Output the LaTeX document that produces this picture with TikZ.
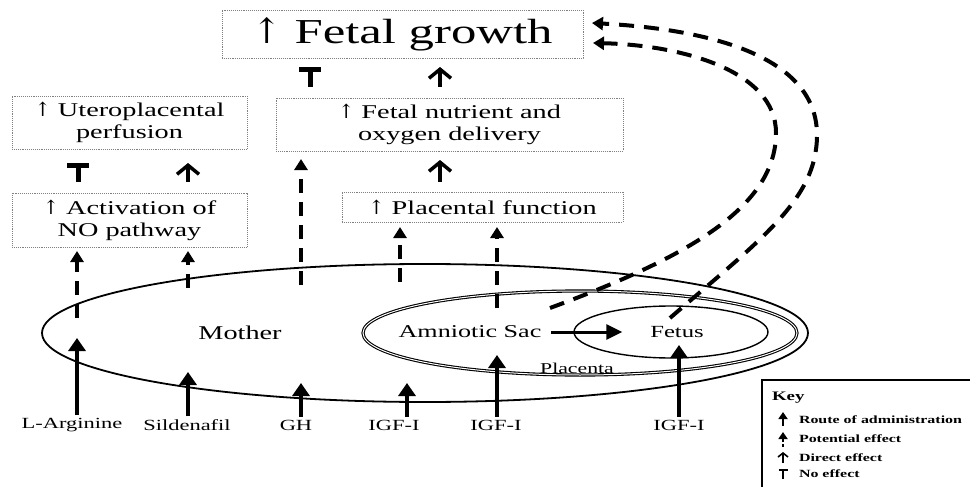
\documentclass[tikz,border=0pt]{standalone}
\usepackage{fontspec}
\setmainfont{Liberation Serif}[FakeStretch=1.45]
\newfontfamily\arrowfont{DejaVu Serif}
\newcommand{\up}{{\arrowfont ↑}}
\usetikzlibrary{shapes.geometric,arrows.meta,positioning,calc}

\begin{document}
\begin{tikzpicture}[x=1pt,y=-1pt,
  every node/.style={inner sep=0pt,outer sep=0pt},
  box/.style={draw=gray,densely dotted,line width=0.9pt,align=center,font=\fontsize{19.5}{22}\selectfont},
  region/.style={draw,ellipse,line width=1.8pt},
  sac/.style={draw,ellipse,line width=1.1pt,double=white,double distance=1pt},
  place/.style={font=\fontsize{18}{21}\selectfont},
  drug/.style={font=\fontsize{15.5}{18}\selectfont,inner sep=3pt},
  route/.style={line width=4.5pt,-{Triangle[width=17pt,length=13pt]}},
  potential/.style={line width=4.5pt,dash pattern=on 14pt off 9pt,-{Triangle[width=13pt,length=11pt]}},
  curvy/.style={line width=4pt,dash pattern=on 15pt off 10pt,-{Triangle[width=13pt,length=11pt]}},
  direct/.style={line width=3.5pt,-{Straight Barb[width=22pt,length=9pt]}},
  noeffect/.style={line width=5pt,-{Bar[width=22pt]}},
  keytext/.style={anchor=west,font=\bfseries\fontsize{11}{13}\selectfont},
]
\useasboundingbox (0,0) rectangle (970,487);
\clip (0,0) rectangle (970,487);

% outcome boxes
\node[box,minimum width=361pt,minimum height=48pt,font=\fontsize{35}{40}\selectfont] (growth) at (402.5,34) {\up\ Fetal growth};
\node[box,minimum width=235pt,minimum height=53pt] (utero) at (129.5,122.5) {\up\ Uteroplacental\\perfusion};
\node[box,minimum width=235pt,minimum height=54pt] (act) at (129.5,220) {\up\ Activation of\\NO pathway};
\node[box,minimum width=347pt,minimum height=53pt] (nutr) at (449.5,124.5) {\up\ Fetal nutrient and\\oxygen delivery};
\node[box,minimum width=281pt,minimum height=30pt] (plac) at (482.5,207) {\up\ Placental function};

% effects between boxes
\coordinate (eA) at (78,0);
\coordinate (eB) at (188,0);
\coordinate (eC) at (310,0);
\coordinate (eD) at (440,0);
\draw[noeffect,shorten <=11pt,shorten >=14pt] (act.north -| eA) -- (utero.south -| eA);
\draw[direct,shorten <=11pt,shorten >=14pt] (act.north -| eB) -- (utero.south -| eB);
\draw[noeffect,shorten <=11pt,shorten >=9pt] (nutr.north -| eC) -- (growth.south -| eC);
\draw[direct,shorten <=11pt,shorten >=9pt] (nutr.north -| eD) -- (growth.south -| eD);
\draw[direct,shorten <=10pt,shorten >=9pt] (plac.north -| eD) -- (nutr.south -| eD);

% compartments
\node[region,minimum width=766pt,minimum height=138pt] (mother) at (425,333) {};
\node[sac,minimum width=434pt,minimum height=84pt] (sac) at (580,333) {};
\node[region,line width=1.4pt,minimum width=194pt,minimum height=52pt] (fetus) at (671,332) {};
\node[place,font=\fontsize{19.5}{22}\selectfont] (mlbl) at (240,333) {Mother};
\node[place] (albl) at (470,332) {Amniotic Sac};
\node[place,font=\fontsize{17}{20}\selectfont] (flbl) at (677,332) {Fetus};
\node[font=\fontsize{15}{18}\selectfont] (plbl) at (577,368) {Placenta};
\draw[line width=3pt,-{Triangle[width=15pt,length=16pt]}] ([xshift=10pt]albl.east) -- ([xshift=-28pt]flbl.west);

% treatments
\node[drug] (larg) at (72,425) {L-Arginine};
\node[drug] (sild) at (187,425) {Sildenafil};
\node[drug] (gh) at (296,425) {GH};
\node[drug] (igfa) at (394,425) {IGF-I};
\node[drug] (igfb) at (496,425) {IGF-I};
\node[drug] (igfc) at (679,425) {IGF-I};

\coordinate (tLA) at (77,338);
\coordinate (tSI) at (188,372);
\coordinate (tGH) at (301,383);
\coordinate (tIA) at (407,383);
\coordinate (tIB) at (497,355);
\coordinate (tIC) at (679,345);
\draw[route] (larg.north -| tLA) -- (tLA);
\draw[route] (sild.north -| tSI) -- (tSI);
\draw[route] (gh.north -| tGH) -- (tGH);
\draw[route] (igfa.north -| tIA) -- (tIA);
\draw[route] (igfb.north -| tIB) -- (tIB);
\draw[route] (igfc.north -| tIC) -- (tIC);

\coordinate (pLA) at (77,318);
\coordinate (pSI) at (188,288);
\coordinate (pGH) at (301,285);
\coordinate (pIA) at (400,282);
\coordinate (pIB) at (497,308);
\draw[potential,shorten >=4pt] (pLA) -- (act.south -| pLA);
\draw[potential,shorten >=4pt] (pSI) -- (act.south -| pSI);
\draw[potential,shorten >=8pt] (pGH) -- (nutr.south -| pGH);
\draw[potential,shorten >=5pt] (pIA) -- (plac.south -| pIA);
\draw[potential,shorten >=5pt] (pIB) -- (plac.south -| pIB);

% back to fetal growth
\coordinate (sacTop) at (550,308);
\coordinate (fetTop) at (670,318);
\draw[curvy] (sacTop) .. controls (680,260) and (776,210) .. (776,133) .. controls (776,70) and (680,45) .. ([shift={(10pt,-9pt)}]growth.east);
\draw[curvy] (fetTop) .. controls (760,240) and (817,200) .. (817,135) .. controls (817,60) and (720,30) .. ([shift={(9pt,11pt)}]growth.east);

% key
\node[draw,line width=1.3pt,minimum width=220pt,minimum height=120pt,anchor=north west] (key) at (762,380) {};
\node[anchor=west,font=\bfseries\fontsize{13}{15}\selectfont] (keyt) at (772,398) {Key};
\node[keytext] (k1) at (799,420) {Route of administration};
\node[keytext] (k2) at (799,439) {Potential effect};
\node[keytext] (k3) at (799,458) {Direct effect};
\node[keytext] (k4) at (799,474) {No effect};
\draw[line width=2.4pt,-{Triangle[width=9pt,length=7pt]}] (783,426) -- (783,412);
\draw[line width=2.4pt,dash pattern=on 3pt off 2pt,-{Triangle[width=9pt,length=7pt]}] (783,447) -- (783,432);
\draw[line width=1.6pt,-{Straight Barb[width=10pt,length=4pt]}] (783,463) -- (783,452);
\draw[line width=2.2pt,-{Bar[width=9pt]}] (783,479) -- (783,469);

\end{tikzpicture}
\end{document}
